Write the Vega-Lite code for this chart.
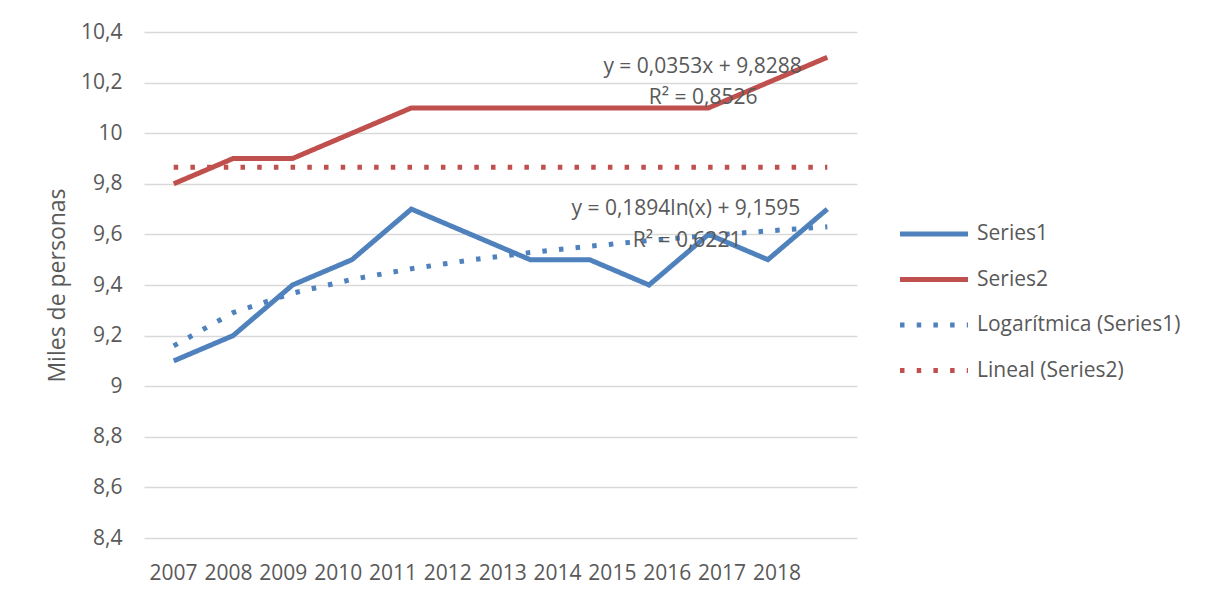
{
  "$schema": "https://vega.github.io/schema/vega-lite/v6.json",
  "width": 713,
  "height": 506,
  "autosize": {"type": "none"},
  "padding": {"left": 144, "top": 32, "right": 348, "bottom": 60},
  "background": "white",
  "config": {
    "font": "Open Sans",
    "view": {"stroke": null},
    "axis": {"labelFont": "Open Sans", "titleFont": "Open Sans", "labelColor": "#595959", "titleColor": "#595959", "labelFontSize": 21, "titleFontSize": 23, "titleFontWeight": "normal"}
  },
  "datasets": {
    "lines": [
      {"idx": 1, "value": 9.1, "series": "Series1"},
      {"idx": 2, "value": 9.2, "series": "Series1"},
      {"idx": 3, "value": 9.4, "series": "Series1"},
      {"idx": 4, "value": 9.5, "series": "Series1"},
      {"idx": 5, "value": 9.7, "series": "Series1"},
      {"idx": 6, "value": 9.6, "series": "Series1"},
      {"idx": 7, "value": 9.5, "series": "Series1"},
      {"idx": 8, "value": 9.5, "series": "Series1"},
      {"idx": 9, "value": 9.4, "series": "Series1"},
      {"idx": 10, "value": 9.6, "series": "Series1"},
      {"idx": 11, "value": 9.5, "series": "Series1"},
      {"idx": 12, "value": 9.7, "series": "Series1"},
      {"idx": 1, "value": 9.8, "series": "Series2"},
      {"idx": 2, "value": 9.9, "series": "Series2"},
      {"idx": 3, "value": 9.9, "series": "Series2"},
      {"idx": 4, "value": 10.0, "series": "Series2"},
      {"idx": 5, "value": 10.1, "series": "Series2"},
      {"idx": 6, "value": 10.1, "series": "Series2"},
      {"idx": 7, "value": 10.1, "series": "Series2"},
      {"idx": 8, "value": 10.1, "series": "Series2"},
      {"idx": 9, "value": 10.1, "series": "Series2"},
      {"idx": 10, "value": 10.1, "series": "Series2"},
      {"idx": 11, "value": 10.2, "series": "Series2"},
      {"idx": 12, "value": 10.3, "series": "Series2"},
      {"idx": 1, "value": 9.1595, "series": "Logarítmica (Series1)"},
      {"idx": 2, "value": 9.2908, "series": "Logarítmica (Series1)"},
      {"idx": 3, "value": 9.3676, "series": "Logarítmica (Series1)"},
      {"idx": 4, "value": 9.4221, "series": "Logarítmica (Series1)"},
      {"idx": 5, "value": 9.4643, "series": "Logarítmica (Series1)"},
      {"idx": 6, "value": 9.4989, "series": "Logarítmica (Series1)"},
      {"idx": 7, "value": 9.5281, "series": "Logarítmica (Series1)"},
      {"idx": 8, "value": 9.5533, "series": "Logarítmica (Series1)"},
      {"idx": 9, "value": 9.5757, "series": "Logarítmica (Series1)"},
      {"idx": 10, "value": 9.5956, "series": "Logarítmica (Series1)"},
      {"idx": 11, "value": 9.6137, "series": "Logarítmica (Series1)"},
      {"idx": 12, "value": 9.6302, "series": "Logarítmica (Series1)"},
      {"idx": 1, "value": 9.865, "series": "Lineal (Series2)"},
      {"idx": 2, "value": 9.865, "series": "Lineal (Series2)"},
      {"idx": 3, "value": 9.865, "series": "Lineal (Series2)"},
      {"idx": 4, "value": 9.865, "series": "Lineal (Series2)"},
      {"idx": 5, "value": 9.865, "series": "Lineal (Series2)"},
      {"idx": 6, "value": 9.865, "series": "Lineal (Series2)"},
      {"idx": 7, "value": 9.865, "series": "Lineal (Series2)"},
      {"idx": 8, "value": 9.865, "series": "Lineal (Series2)"},
      {"idx": 9, "value": 9.865, "series": "Lineal (Series2)"},
      {"idx": 10, "value": 9.865, "series": "Lineal (Series2)"},
      {"idx": 11, "value": 9.865, "series": "Lineal (Series2)"},
      {"idx": 12, "value": 9.865, "series": "Lineal (Series2)"}
    ],
    "notes": [
      {"idx": 9.9, "value": 10.263, "label": "y = 0,0353x + 9,8288"},
      {"idx": 9.91, "value": 10.138, "label": "R² = 0,8526"},
      {"idx": 9.62, "value": 9.70, "label": "y = 0,1894ln(x) + 9,1595"},
      {"idx": 9.64, "value": 9.575, "label": "R² = 0,6221"}
    ],
    "years": [
      {"year": "2007"}, {"year": "2008"}, {"year": "2009"}, {"year": "2010"},
      {"year": "2011"}, {"year": "2012"}, {"year": "2013"}, {"year": "2014"},
      {"year": "2015"}, {"year": "2016"}, {"year": "2017"}, {"year": "2018"}
    ]
  },
  "layer": [
    {
      "data": {"name": "lines"},
      "mark": {"type": "line", "strokeWidth": 5, "strokeCap": "butt"},
      "encoding": {
        "x": {"field": "idx", "type": "quantitative", "scale": {"domain": [0.5, 12.5], "nice": false, "zero": false}, "axis": null},
        "y": {
          "field": "value", "type": "quantitative",
          "scale": {"domain": [8.4, 10.4], "nice": false, "zero": false},
          "axis": {
            "values": [8.4, 8.6, 8.8, 9.0, 9.2, 9.4, 9.6, 9.8, 10.0, 10.2, 10.4],
            "labelExpr": "replace(format(datum.value, '.1~f'), '.', ',')",
            "grid": true, "gridColor": "#d9d9d9", "gridWidth": 1.5,
            "domain": false, "ticks": false, "labelPadding": 22,
            "title": "Miles de personas", "titlePadding": 11, "titleFontSize": 23
          }
        },
        "color": {
          "field": "series", "type": "nominal",
          "scale": {"domain": ["Series1", "Series2", "Logarítmica (Series1)", "Lineal (Series2)"], "range": ["#4f81bd", "#c0504d", "#4f81bd", "#c0504d"]},
          "legend": {"title": null, "orient": "none", "legendX": 756, "legendY": 191, "padding": 0, "symbolType": "M-4,0H4", "symbolSize": 289, "symbolStrokeWidth": 5, "symbolOffset": 23, "labelOffset": 32, "rowPadding": 24.5, "labelFontSize": 21, "labelFont": "Open Sans", "labelColor": "#595959", "labelLimit": 400}
        },
        "strokeDash": {
          "field": "series", "type": "nominal",
          "scale": {"domain": ["Series1", "Series2", "Logarítmica (Series1)", "Lineal (Series2)"], "range": [[1, 0], [1, 0], [4.5, 12.2], [4.5, 12.2]]},
          "legend": {"title": null, "orient": "none", "legendX": 756, "legendY": 191, "padding": 0, "symbolType": "M-4,0H4", "symbolSize": 289, "symbolStrokeWidth": 5, "symbolOffset": 23, "labelOffset": 32, "rowPadding": 24.5, "labelFontSize": 21, "labelFont": "Open Sans", "labelColor": "#595959", "labelLimit": 400}
        }
      }
    },
    {
      "data": {"name": "notes"},
      "mark": {"type": "text", "font": "Open Sans", "fontSize": 21, "color": "#595959", "align": "center", "baseline": "middle"},
      "encoding": {
        "x": {"field": "idx", "type": "quantitative", "scale": {"domain": [0.5, 12.5], "nice": false, "zero": false}, "axis": null},
        "y": {"field": "value", "type": "quantitative"},
        "text": {"field": "label"}
      }
    },
    {
      "data": {"name": "years"},
      "mark": {"type": "point", "opacity": 0},
      "encoding": {
        "x": {
          "field": "year", "type": "ordinal",
          "scale": {"type": "point", "padding": 1.0775, "align": 0.2654},
          "axis": {"title": null, "domain": false, "ticks": false, "grid": false, "labelPadding": 24, "labelAngle": 0, "labelOverlap": false}
        }
      }
    }
  ],
  "resolve": {"scale": {"x": "independent"}, "axis": {"x": "independent"}}
}
